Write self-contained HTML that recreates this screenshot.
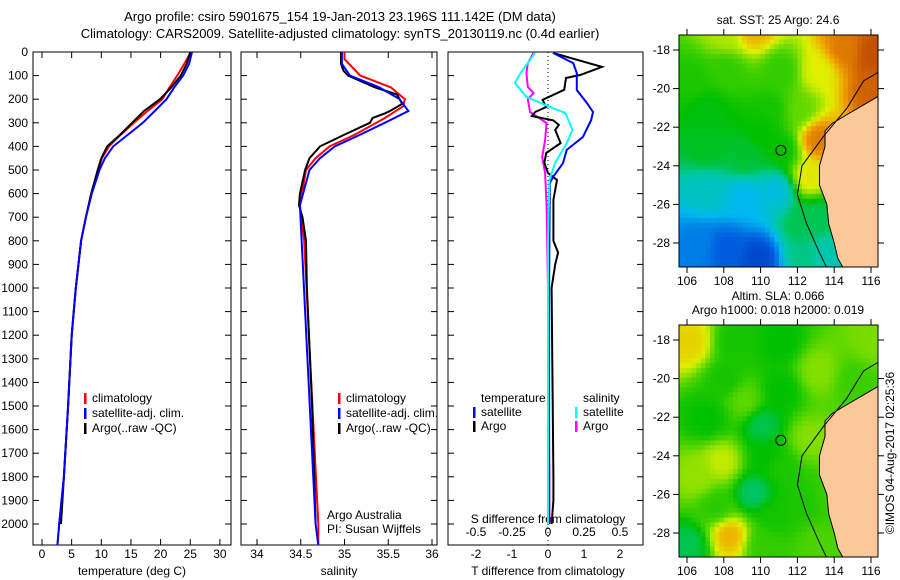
<!DOCTYPE html>
<html><head><meta charset="utf-8"><style>
html,body{margin:0;padding:0;background:#fff}
svg{display:block;font-family:"Liberation Sans",sans-serif}
text{font-size:12px;fill:#000}
</style></head><body>
<svg id="fig" width="900" height="580" viewBox="0 0 900 580" xmlns="http://www.w3.org/2000/svg">
<text x="340" y="21" text-anchor="middle" style="font-size:13px">Argo profile: csiro 5901675_154 19-Jan-2013 23.196S 111.142E (DM data)</text>
<text x="340" y="38" text-anchor="middle" style="font-size:13px">Climatology: CARS2009. Satellite-adjusted climatology: synTS_20130119.nc (0.4d earlier)</text>
<g id="g"></g>
</svg>
<script>
// ---- data ----
const depthTicks=[0,100,200,300,400,500,600,700,800,900,1000,1100,1200,1300,1400,1500,1600,1700,1800,1900,2000];
const tempTicks=[0,5,10,15,20,25,30];
const salTicks=[34,34.5,35,35.5,36];
const tdiffTicks=[-2,-1,0,1,2];
const sdiffTicks=[-0.5,-0.25,0,0.25,0.5];
const tempArgoD=[0,50,100,150,200,250,300,350,400,450,500,600,700,800,1000,1200,1500,1800,2000];
const tempArgo=[25,24.4,23.4,21.8,19.9,17.2,15.2,13.2,11,10,9.4,8.3,7.4,6.6,5.7,5,4.4,3.7,3.2];
const tempClimD=[0,50,100,150,200,250,300,350,400,450,500,600,700,800,1000,1200,1500,1800,2000,2090];
const tempClim=[25.1,24,22.8,21.5,20.3,17.8,15.5,13.3,11.3,10.1,9.5,8.3,7.4,6.6,5.7,5,4.4,3.7,2.9,2.6];
const tempSat=[25.3,24.8,23.8,22.3,21,19,17,14.5,12,10.6,9.7,8.4,7.4,6.6,5.7,5,4.4,3.7,2.9,2.6];
const salArgoD=[0,50,80,100,150,180,220,250,260,280,300,350,400,450,500,600,650,700,800,1000,1500,2000];
const salArgo=[34.96,34.96,34.99,35.04,35.35,35.6,35.66,35.52,35.46,35.32,35.29,35.0,34.72,34.6,34.55,34.49,34.48,34.52,34.56,34.57,34.63,34.67];
const salClimD=[0,30,100,150,200,230,280,350,400,450,500,650,800,2000,2090];
const salClim=[35.0,35.0,35.18,35.53,35.69,35.67,35.46,35.12,34.83,34.67,34.56,34.49,34.54,34.7,34.7];
const salSatD=[0,50,100,150,200,250,300,350,400,450,500,650,2000,2090];
const salSat=[34.97,34.97,35.06,35.4,35.63,35.73,35.46,35.18,34.89,34.72,34.6,34.49,34.67,34.7];
const tdArgoD=[4,63,97,110,160,203,233,254,271,290,309,330,386,428,470,513,542,627,800,850,900,1000,1800,1900,2000];
const tdArgo=[0.14,1.5,0.9,0.5,0.45,-0.15,-0.05,-0.35,-0.45,0.15,0.3,0.2,0.35,-0.05,-0.1,0,0.25,0.15,0.15,0.28,0.2,0.1,0.15,0.15,0.1];
const tdSatD=[4,47,89,161,216,254,288,360,415,470,530,555,1000,2000];
const tdSat=[0.14,0.7,0.8,0.8,1.08,1.25,1.2,0.97,0.52,0.42,0.14,0.05,0.03,0.03];
const sdArgoD=[4,47,89,148,174,200,254,301,373,445,513,650,1000,1800,2000];
const sdArgo=[-0.1,-0.14,-0.15,-0.14,-0.1,-0.14,-0.125,-0.01,-0.02,-0.04,-0.02,-0.01,0,0.01,0.01];
const sdSatD=[4,89,131,190,237,258,330,386,470,542,800,2000];
const sdSat=[-0.09,-0.19,-0.23,-0.15,0.03,0.12,0.17,0.13,0.05,0.01,0,0];
const mapLonTicks=[106,108,110,112,114,116];
const mapLatTicks=[-18,-20,-22,-24,-26,-28];

const NS="http://www.w3.org/2000/svg";
const G=document.getElementById('g');
function mk(tag,attrs,parent){const e=document.createElementNS(NS,tag);for(const k in attrs)e.setAttribute(k,attrs[k]);(parent||G).appendChild(e);return e;}
const top0=52, bot=545;
const yD=d=>top0+d*0.236;
const xT=t=>42+t*5.93;
const xS=s=>257+(s-34)*87.5;
const xTd=v=>548+v*36;
const xSd=v=>548+v*144;

const panels=[[33,231,'temperature-panel'],[241,437,'salinity-panel'],[448,643,'difference-panel']];
panels.forEach(p=>{
  const r=mk('rect',{x:p[0],y:top0,width:p[1]-p[0],height:bot-top0,fill:'none',stroke:'#000','stroke-width':1});
  
  
  depthTicks.forEach(d=>{
    mk('line',{x1:p[0],x2:p[0]+6,y1:yD(d),y2:yD(d),stroke:'#000'});
    mk('line',{x1:p[1],x2:p[1]-6,y1:yD(d),y2:yD(d),stroke:'#000'});
  });
});
depthTicks.forEach(d=>{
  const t=mk('text',{x:28,y:yD(d)+4,'text-anchor':'end'});t.textContent=d;
  
  
});
function xticks(arr,fx,y,name){arr.forEach(v=>{
  const x=fx(v);
  mk('line',{x1:x,x2:x,y1:top0,y2:top0+6,stroke:'#000'});
  mk('line',{x1:x,x2:x,y1:bot,y2:bot-6,stroke:'#000'});
  const t=mk('text',{x:x,y:y,'text-anchor':'middle'});t.textContent=v;
  
  
});}
xticks(tempTicks,xT,558,'temperature-tick-label');
xticks(salTicks,xS,558,'salinity-tick-label');
tdiffTicks.forEach(v=>{const t=mk('text',{x:xTd(v),y:558,'text-anchor':'middle'});t.textContent=v;
  
  });
sdiffTicks.forEach(v=>{const t=mk('text',{x:xSd(v),y:536,'text-anchor':'middle'});t.textContent=v;
  
  });
[[132,575,'temperature (deg C)','temperature-axis-title'],[339,575,'salinity','salinity-axis-title'],[548,575,'T difference from climatology','t-diff-axis-title'],[548,523,'S difference from climatology','s-diff-axis-title']].forEach(a=>{
  const t=mk('text',{x:a[0],y:a[1],'text-anchor':'middle'});t.textContent=a[2];
  
  
});
mk('line',{x1:548,x2:548,y1:top0,y2:bot,stroke:'#000','stroke-dasharray':'1,3'});

function line(ds,vs,fx,col,name,w){
  const pts=ds.map((d,i)=>fx(vs[i]).toFixed(1)+','+yD(d).toFixed(1)).join(' ');
  const p=mk('polyline',{points:pts,fill:'none',stroke:col,'stroke-width':w||2});
  
  
}
line(tempClimD,tempClim,xT,'#f00','temp-climatology-line');
line(tempArgoD,tempArgo,xT,'#000','temp-argo-line');
line(tempClimD,tempSat,xT,'#00f','temp-satellite-line');
line(salClimD,salClim,xS,'#f00','sal-climatology-line');
line(salArgoD,salArgo,xS,'#000','sal-argo-line');
line(salSatD,salSat,xS,'#00f','sal-satellite-line');
line(sdArgoD,sdArgo,xSd,'#f0f','s-diff-argo-line');
line(tdArgoD,tdArgo,xTd,'#000','t-diff-argo-line');
line(tdSatD,tdSat,xTd,'#00f','t-diff-satellite-line');
line(sdSatD,sdSat,xSd,'#0ff','s-diff-satellite-line');

function leg(x,y,col,label,name){
  if(col)mk('rect',{x:x,y:y-9,width:2.5,height:11,fill:col});
  const t=mk('text',{x:x+8,y:y});t.textContent=label;
  
  
}
leg(84,402,'#f00','climatology','legend-climatology');
leg(84,417,'#00f','satellite-adj. clim.','legend-satellite');
leg(84,432,'#000','Argo(..raw -QC)','legend-argo');
leg(338,402,'#f00','climatology','legend-climatology-2');
leg(338,417,'#00f','satellite-adj. clim.','legend-satellite-2');
leg(338,432,'#000','Argo(..raw -QC)','legend-argo-2');
leg(473,402,null,'temperature','legend-temperature-header');
leg(473,416,'#00f','satellite','legend-t-satellite');
leg(473,430,'#000','Argo','legend-t-argo');
leg(575,402,null,'salinity','legend-salinity-header');
leg(575,416,'#0ff','satellite','legend-s-satellite');
leg(575,430,'#f0f','Argo','legend-s-argo');
[[327,519,'Argo Australia'],[327,533,'PI: Susan Wijffels']].forEach(a=>{const t=mk('text',{x:a[0],y:a[1]});t.textContent=a[2];
  
  });

// ---- maps ----
const cmap=[[0,[0,24,160]],[0.15,[0,96,224]],[0.3,[0,184,240]],[0.4,[0,200,160]],[0.5,[0,192,0]],[0.6,[96,216,0]],[0.7,[224,240,0]],[0.8,[240,160,0]],[0.9,[208,96,0]],[1,[176,64,0]]];
function col(v){v=Math.max(0,Math.min(1,v));for(let i=1;i<cmap.length;i++){if(v<=cmap[i][0]){const a=cmap[i-1],b=cmap[i],f=(v-a[0])/(b[0]-a[0]);return 'rgb('+a[1].map((c,j)=>Math.round(c+(b[1][j]-c)*f)).join(',')+')';}}}
const sstAnch=[[108,-28.2,0.14],[109.8,-28.6,0.1],[106.5,-28,0.2],[109,-25.5,0.3],[110.8,-25.2,0.32],[107,-25.2,0.36],[112,-27,0.45],[107,-21,0.49],[110,-22,0.5],[111,-19,0.55],[108,-19,0.55],[107,-23,0.48],[109,-23.5,0.47],[111,-23,0.5],[110.5,-21,0.52],[106.2,-19.5,0.53],[108,-17,0.66],[109.5,-16.8,0.78],[113,-19,0.7],[114.5,-17.8,0.86],[116,-18,0.95],[116,-20,0.9],[113,-22.5,0.86],[112.5,-24.5,0.72],[113,-26.5,0.45],[113.5,-28.5,0.38],[112,-21,0.6],[112.2,-28.5,0.42]];
const slaAnch=[[106,-18,0.74],[108.2,-28,0.78],[107.8,-24.2,0.68],[106.5,-25,0.64],[112.5,-23,0.63],[113,-19.5,0.63],[116,-18,0.62],[109,-21,0.6],[109.5,-25.8,0.43],[110,-22.3,0.45],[106,-28.5,0.45],[108,-20,0.52],[111,-18,0.5],[110.5,-27,0.52],[114,-26,0.56],[111,-24.5,0.53],[115,-20,0.56],[107,-22,0.5],[108.5,-18,0.52],[111,-20.5,0.5],[110,-28.5,0.55],[112,-26.5,0.53],[113,-28.5,0.58],[107.5,-26.5,0.54],[110.2,-24,0.5]];
const coast=[[116.4,-20.4],[115.5,-20.9],[114.6,-21.4],[113.9,-21.8],[113.5,-22.2],[113.5,-23],[113.2,-24],[113.2,-25],[113.6,-26],[113.7,-27],[114,-28],[114.2,-28.8],[114.5,-29.3],[116.4,-29.3]];
const shelf=[[116.4,-19.15],[115.6,-19.6],[114.7,-21],[113.4,-22.5],[112.25,-24],[112,-25.5],[112.5,-27],[113.2,-28.5],[113.6,-29.3]];
function drawMap(oy,anch,name,titles){
  const X=l=>687+(l-106)*18.4, Y=l=>oy+50+(-18-l)*19.3;
  const g=mk('g',{});
  for(let lon=105.5;lon<116.4;lon+=0.25)for(let lat=-17.2;lat>-29.3;lat-=0.25){
    let s=0,w=0;anch.forEach(a=>{const d2=(a[0]-lon)**2+(a[1]-lat)**2+0.3;const ww=1/(d2*d2);s+=ww*a[2];w+=ww;});
    mk('rect',{x:X(lon).toFixed(1),y:Y(lat).toFixed(1),width:5,height:5.3,fill:col(s/w)},g);
  }
  mk('polygon',{points:coast.map(p=>X(p[0])+','+Y(p[1])).join(' '),fill:'#fcc898',stroke:'#000','stroke-width':1},g);
  mk('polyline',{points:shelf.map(p=>X(p[0])+','+Y(p[1])).join(' '),fill:'none',stroke:'#000','stroke-width':1},g);
  mk('circle',{cx:X(111.1),cy:Y(-23.2),r:5,fill:'none',stroke:'#000'},g);
  mk('rect',{x:878,y:oy+30,width:22,height:240,fill:'#fff'},g);
  mk('rect',{x:660,y:oy+267,width:230,height:20,fill:'#fff'},g);
  mk('rect',{x:660,y:oy+28,width:230,height:7,fill:'#fff'},g);
  mk('rect',{x:660,y:oy+30,width:19,height:240,fill:'#fff'},g);
  mk('rect',{x:679,y:oy+35,width:199,height:232,fill:'none',stroke:'#000'},g);
  mapLonTicks.forEach(l=>{mk('line',{x1:X(l),x2:X(l),y1:oy+35,y2:oy+29,stroke:'#000'},g);mk('line',{x1:X(l),x2:X(l),y1:oy+267,y2:oy+273,stroke:'#000'},g);
    const t=mk('text',{x:X(l),y:oy+285,'text-anchor':'middle'},g);t.textContent=l;
    
    });
  mapLatTicks.forEach(l=>{mk('line',{x1:673,x2:679,y1:Y(l),y2:Y(l),stroke:'#000'},g);mk('line',{x1:878,x2:884,y1:Y(l),y2:Y(l),stroke:'#000'},g);
    const t=mk('text',{x:670,y:Y(l)+4,'text-anchor':'end'},g);t.textContent=l;
    
    });
  titles.forEach((s,i)=>{const t=mk('text',{x:778,y:oy+24-(titles.length-1-i)*14,'text-anchor':'middle'},g);t.textContent=s;
    
    });
}
drawMap(0,sstAnch,'sst-map',['sat. SST: 25 Argo: 24.6']);
drawMap(290,slaAnch,'sla-map',['Altim. SLA: 0.066','Argo h1000: 0.018 h2000: 0.019']);
const c=mk('text',{x:894,y:453,'text-anchor':'middle',transform:'rotate(-90 894 453)'});c.textContent='©IMOS 04-Aug-2017 02:25:36';


</script>
</body></html>
